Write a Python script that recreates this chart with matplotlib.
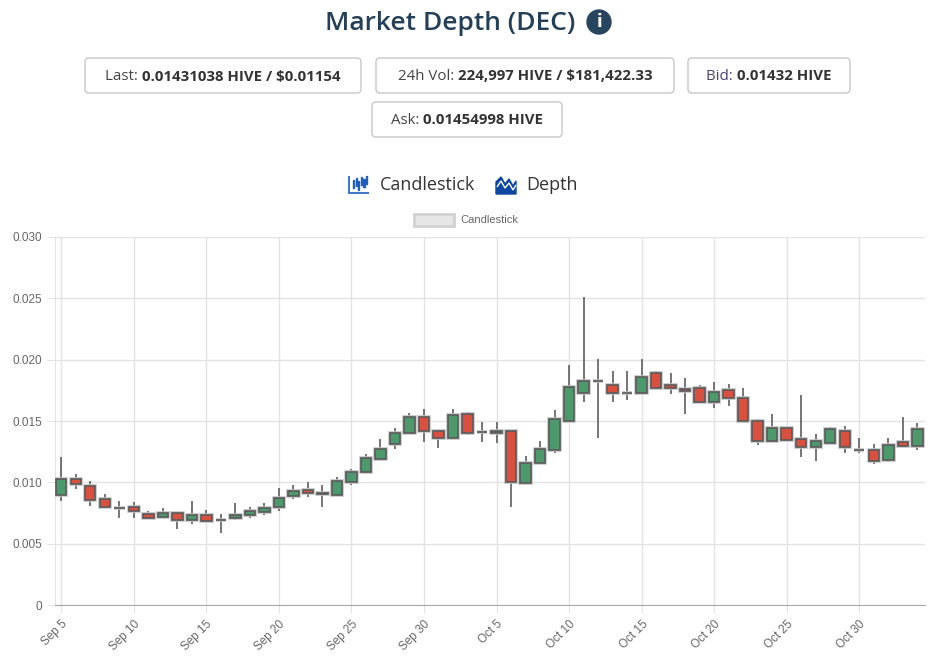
import matplotlib.pyplot as plt
import matplotlib.dates as mdates
from matplotlib.patches import FancyBboxPatch, Rectangle, Circle, Polygon
from matplotlib.transforms import IdentityTransform
import numpy as np
import pandas as pd

# daily candles, Sep 5 -> Nov 3
dates = pd.date_range("2023-09-05", periods=60, freq="D")
opens = [0.00896, 0.01027, 0.00972, 0.00861, 0.00792, 0.00798, 0.00743, 0.00721, 0.00754, 0.00689,
         0.00730, 0.00694, 0.00710, 0.00732, 0.00759, 0.00798, 0.00888, 0.00934, 0.00915, 0.00898,
         0.01004, 0.01082, 0.01193, 0.01316, 0.01404, 0.01535, 0.01420, 0.01363, 0.01557, 0.01407,
         0.01402, 0.01420, 0.00997, 0.01158, 0.01265, 0.01497, 0.01726, 0.01825, 0.01795, 0.01732,
         0.01732, 0.01890, 0.01795, 0.01762, 0.01773, 0.01652, 0.01754, 0.01685, 0.01502, 0.01341,
         0.01443, 0.01352, 0.01289, 0.01322, 0.01420, 0.01265, 0.01267, 0.01183, 0.01325, 0.01300]
highs = [0.01205, 0.01068, 0.01008, 0.00904, 0.00847, 0.00836, 0.00770, 0.00787, 0.00754, 0.00847,
         0.00776, 0.00738, 0.00830, 0.00800, 0.00828, 0.00951, 0.00978, 0.01000, 0.00978, 0.01043,
         0.01108, 0.01232, 0.01352, 0.01439, 0.01566, 0.01601, 0.01429, 0.01598, 0.01574, 0.01494,
         0.01494, 0.01420, 0.01213, 0.01336, 0.01593, 0.01953, 0.02508, 0.02002, 0.01904, 0.01904,
         0.02002, 0.01904, 0.01893, 0.01852, 0.01795, 0.01822, 0.01803, 0.01770, 0.01516, 0.01557,
         0.01453, 0.01716, 0.01390, 0.01453, 0.01461, 0.01363, 0.01311, 0.01361, 0.01535, 0.01484]
lows = [0.00849, 0.00948, 0.00808, 0.00792, 0.00710, 0.00710, 0.00699, 0.00710, 0.00620, 0.00664,
        0.00686, 0.00587, 0.00697, 0.00713, 0.00734, 0.00770, 0.00866, 0.00882, 0.00795, 0.00893,
        0.00977, 0.01082, 0.01180, 0.01273, 0.01390, 0.01328, 0.01279, 0.01363, 0.01388, 0.01325,
        0.01320, 0.00795, 0.00992, 0.01152, 0.01243, 0.01497, 0.01656, 0.01363, 0.01656, 0.01675,
        0.01721, 0.01773, 0.01724, 0.01560, 0.01652, 0.01607, 0.01620, 0.01502, 0.01303, 0.01333,
        0.01333, 0.01210, 0.01177, 0.01311, 0.01243, 0.01243, 0.01152, 0.01169, 0.01292, 0.01262]
closes = [0.01027, 0.00984, 0.00855, 0.00800, 0.00792, 0.00765, 0.00710, 0.00751, 0.00689, 0.00730,
          0.00688, 0.00694, 0.00734, 0.00765, 0.00789, 0.00869, 0.00931, 0.00910, 0.00902, 0.01013,
          0.01083, 0.01197, 0.01275, 0.01404, 0.01535, 0.01420, 0.01361, 0.01552, 0.01404, 0.01407,
          0.01420, 0.01000, 0.01161, 0.01273, 0.01516, 0.01779, 0.01825, 0.01825, 0.01732, 0.01732,
          0.01855, 0.01773, 0.01767, 0.01746, 0.01652, 0.01738, 0.01685, 0.01502, 0.01341, 0.01443,
          0.01347, 0.01292, 0.01333, 0.01431, 0.01289, 0.01265, 0.01175, 0.01303, 0.01300, 0.01431]

stats = [("Last: ", "0.01431038 HIVE / $0.01154"),
         ("24h Vol: ", "224,997 HIVE / $181,422.33"),
         ("Bid: ", "0.01432 HIVE"),
         ("Ask: ", "0.01454998 HIVE")]

W, H = 948, 660
UP, DOWN = "#4c9a6c", "#d9503f"
UI_FONT = ["Open Sans", "DejaVu Sans"]
CHART_FONT = ["Liberation Sans", "DejaVu Sans"]

fig = plt.figure(figsize=(W / 100, H / 100), dpi=100)
ident = IdentityTransform()


def px(x, y):
    return x / W, 1 - y / H


# ---- header ----
fig.text(*px(450, 24), "Market Depth (DEC)", ha="center", va="center",
         fontsize=19, fontweight=600, color="#243f58", family=UI_FONT)
fig.add_artist(Circle((599, H - 22), 12, transform=ident, color="#27455f"))
fig.text(*px(599, 22), "i", ha="center", va="center", fontsize=12,
         fontweight="bold", color="white", family="DejaVu Sans")

renderer = fig.canvas.get_renderer()
boxes = [(85, 361, 58, 93), (376, 674, 58, 93), (688, 850, 58, 93), (372, 562, 102, 137)]
for (lab, val), (x0, x1, y0, y1) in zip(stats, boxes):
    fig.add_artist(FancyBboxPatch((x0, H - y1), x1 - x0, y1 - y0, transform=ident,
                                  boxstyle="round,pad=0,rounding_size=4",
                                  fc="white", ec="#c8c8c8", lw=1))
    yc = (y0 + y1) / 2 + 1
    lab_color = "#4a4070" if lab.startswith("Bid") else "#444444"
    t1 = fig.text(0, 0, lab, fontsize=10.8, color=lab_color, family=UI_FONT, va="center")
    t2 = fig.text(0, 0, val, fontsize=10.8, color="#333333", family=UI_FONT,
                  fontweight="bold", va="center")
    w1 = t1.get_window_extent(renderer).width
    w2 = t2.get_window_extent(renderer).width
    start = (x0 + x1) / 2 - (w1 + w2) / 2
    t1.set_position(px(start, yc))
    t2.set_position(px(start + w1, yc))

# ---- chart type toggle ----
blue = "#1f5fbf"
fig.add_artist(Polygon([(349, H - 176), (349, H - 193), (369, H - 193)], closed=False,
                       transform=ident, fill=False, ec=blue, lw=1.2))
for i, (a, b) in enumerate([(180, 188), (178, 186), (181, 190), (177, 185), (179, 187), (176, 184)]):
    fig.add_artist(Rectangle((353 + i * 2.6, H - b), 1.2, b - a, transform=ident, color=blue))
fig.text(*px(380, 185), "Candlestick", ha="left", va="center", fontsize=13,
         color="#333333", family=UI_FONT)
fig.add_artist(Polygon([(496, H - 194), (496, H - 182), (501, H - 177), (505, H - 184),
                        (509, H - 179), (513, H - 186), (516, H - 181), (516, H - 194)],
                       transform=ident, color="#0d47a1"))
fig.add_artist(Polygon([(497, H - 187), (501, H - 181), (505, H - 188), (509, H - 183),
                        (513, H - 190), (516, H - 185)], closed=False,
                       transform=ident, fill=False, ec="white", lw=1))
fig.text(*px(526, 185), "Depth", ha="left", va="center", fontsize=13,
         color="#333333", family=UI_FONT)

# ---- legend ----
fig.add_artist(Rectangle((414, H - 226), 40, 12, transform=ident, fc="#e6e6e6",
                         ec="#d2d2d2", lw=2))
fig.text(*px(460, 220), "Candlestick", ha="left", va="center", fontsize=8,
         color="#666666", family=CHART_FONT)

# ---- candlestick chart ----
ax = fig.add_axes([55 / W, 55 / H, 870 / W, 368 / H])
xs = mdates.date2num(dates)
o = np.array(opens)
c = np.array(closes)
colors = [UP if cc > oo else DOWN for oo, cc in zip(o, c)]

ax.vlines(xs, lows, highs, color="#6a6a6a", lw=1.3, zorder=2)
bottom = np.minimum(o, c)
height = np.abs(c - o)
ax.bar(xs, height, bottom=bottom, width=0.72, color=colors, edgecolor="#c4c4c4",
       linewidth=2.6, zorder=3)
ax.bar(xs, height, bottom=bottom, width=0.72, color=colors, edgecolor="#5a5a5a",
       linewidth=1.2, zorder=4)

ax.set_xlim(xs[0] - 0.43, xs[-1] + 0.53)
ax.set_ylim(0, 0.030)
ax.set_yticks(np.arange(0, 0.0301, 0.005))
ax.yaxis.set_major_formatter(plt.FuncFormatter(lambda v, p: "0" if v == 0 else f"{v:.3f}"))
ax.xaxis.set_major_locator(mdates.DayLocator(bymonthday=[5, 10, 15, 20, 25, 30]))
ax.xaxis.set_major_formatter(plt.FuncFormatter(
    lambda v, p: f"{mdates.num2date(v):%b} {mdates.num2date(v).day}"))

ax.grid(True, color="#e3e3e3", lw=1, zorder=0)
ax.set_axisbelow(True)
for s in ["top", "right"]:
    ax.spines[s].set_visible(False)
ax.spines["left"].set_color("#e3e3e3")
ax.spines["bottom"].set_color("#aaaaaa")
ax.tick_params(axis="both", length=6, color="#e3e3e3", labelcolor="#666666", labelsize=8.5)
for lbl in ax.get_yticklabels() + ax.get_xticklabels():
    lbl.set_family(CHART_FONT)
plt.setp(ax.get_xticklabels(), rotation=45, ha="right", rotation_mode="anchor")

fig.savefig("out.png", dpi=100)
